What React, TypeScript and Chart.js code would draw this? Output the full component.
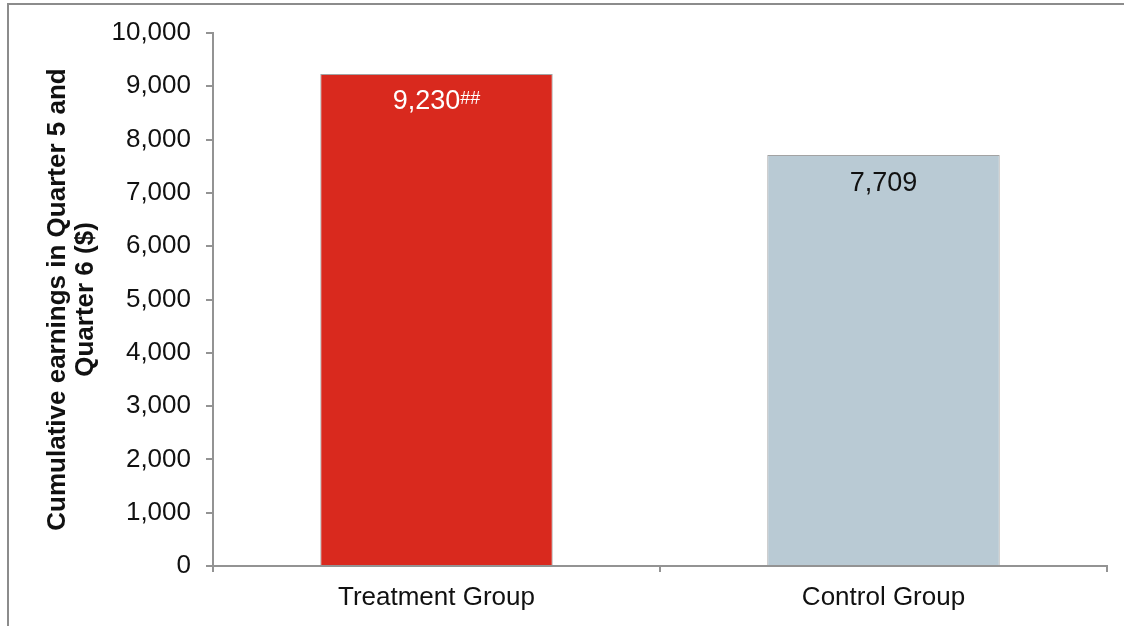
import React, { useEffect, useRef } from "react";
import { Chart, registerables } from "chart.js";

Chart.register(...registerables);

const categories = ["Treatment Group", "Control Group"];
const values = [9230, 7709];
const valueNotes = ["##", ""];
const barColors = ["#d9291e", "#b9cad4"];
const labelColors = ["#ffffff", "#111111"];
const yTicks = [0, 1000, 2000, 3000, 4000, 5000, 6000, 7000, 8000, 9000, 10000];
const yTitle = ["Cumulative earnings in Quarter 5 and", "Quarter 6 ($)"];

const FONT = "'Liberation Sans', Arial, Helvetica, sans-serif";
const AXIS = "#939393";
const TEXT = "#111111";

const valueLabelPlugin = {
  id: "valueLabels",
  afterDatasetsDraw(chart: any) {
    const ctx = chart.ctx as CanvasRenderingContext2D;
    const meta = chart.getDatasetMeta(0);
    meta.data.forEach((bar: any, i: number) => {
      const main = values[i].toLocaleString("en-US");
      const note = valueNotes[i];
      ctx.save();
      ctx.fillStyle = labelColors[i];
      ctx.font = `27px ${FONT}`;
      const mw = ctx.measureText(main).width;
      ctx.font = `18px ${FONT}`;
      const nw = note ? ctx.measureText(note).width : 0;
      const total = mw + nw;
      const startX = bar.x - total / 2;
      const cy = bar.y + 28;
      ctx.font = `27px ${FONT}`;
      ctx.textAlign = "left";
      ctx.textBaseline = "middle";
      ctx.fillText(main, startX, cy);
      if (note) {
        ctx.font = `18px ${FONT}`;
        ctx.textBaseline = "alphabetic";
        const digitTop = cy - 10;
        ctx.fillText(note, startX + mw, digitTop + 12);
      }
      ctx.restore();
    });
  },
};

export default function App() {
  const ref = useRef<HTMLCanvasElement | null>(null);

  useEffect(() => {
    if (!ref.current) return;
    Chart.defaults.font.family = FONT;
    const chart = new Chart(ref.current, {
      type: "bar",
      data: {
        labels: categories,
        datasets: [
          {
            data: values,
            backgroundColor: barColors,
            borderColor: "#a3a3a3",
            borderWidth: 1,
            barPercentage: 0.52,
            categoryPercentage: 1,
          },
        ],
      },
      options: {
        animation: false,
        responsive: false,
        maintainAspectRatio: false,
        layout: { padding: { top: 33, right: 17, left: 0, bottom: 0 } },
        plugins: {
          legend: { display: false },
          tooltip: { enabled: false },
        },
        scales: {
          x: {
            grid: {
              offset: true,
              drawOnChartArea: false,
              drawTicks: true,
              tickLength: 6,
              color: AXIS,
              lineWidth: 2,
            },
            border: { color: AXIS, width: 2 },
            ticks: { font: { size: 26 }, color: TEXT, padding: 10 },
            afterFit: (s: any) => {
              s.height = 60;
            },
          },
          y: {
            min: 0,
            max: 10000,
            afterBuildTicks: (s: any) => {
              s.ticks = yTicks.map((v) => ({ value: v }));
            },
            grid: {
              drawOnChartArea: false,
              drawTicks: true,
              tickLength: 7,
              color: AXIS,
              lineWidth: 2,
            },
            border: { color: AXIS, width: 2 },
            ticks: {
              font: { size: 26 },
              color: TEXT,
              padding: 15,
              callback: (v: any) => Number(v).toLocaleString("en-US"),
            },
            title: {
              display: true,
              text: yTitle,
              color: TEXT,
              font: { size: 26, weight: "bold", lineHeight: 1.08 },
              padding: { top: 44, bottom: 0 },
            },
            afterFit: (s: any) => {
              s.width = 213;
            },
          },
        },
      },
      plugins: [valueLabelPlugin],
    } as any);
    return () => chart.destroy();
  }, []);

  return (
    <div
      style={{
        position: "fixed",
        left: 0,
        top: 0,
        width: 1124,
        height: 626,
        overflow: "hidden",
        background: "#ffffff",
      }}
    >
      <div
        style={{
          position: "absolute",
          left: 7,
          top: 3,
          width: 2000,
          height: 2000,
          borderTop: "2px solid #8c8c8c",
          borderLeft: "2px solid #8c8c8c",
        }}
      />
      <canvas
        ref={ref}
        width={1124}
        height={626}
        style={{ position: "absolute", left: 0, top: 0, width: 1124, height: 626 }}
      />
    </div>
  );
}
